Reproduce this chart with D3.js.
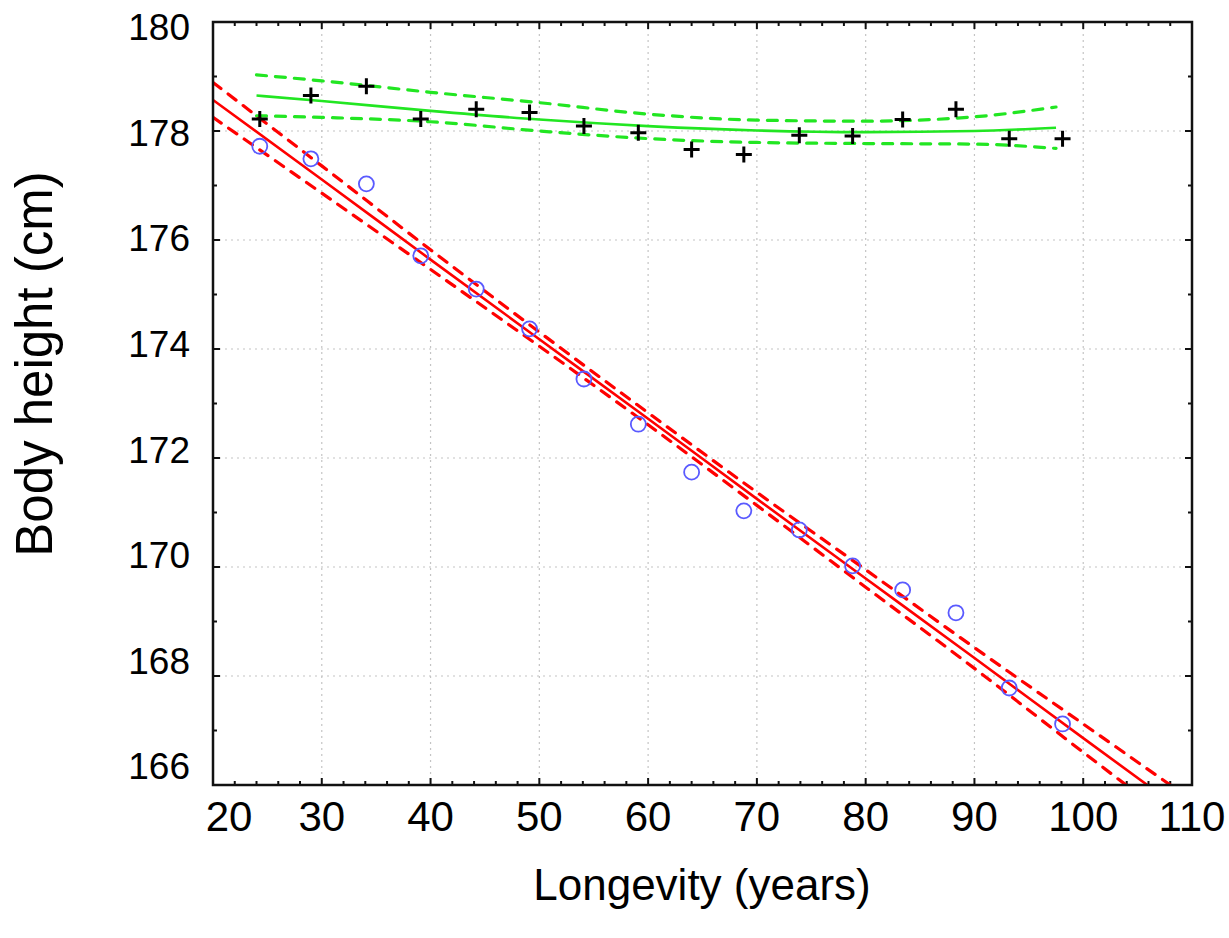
<!DOCTYPE html>
<html>
<head>
<meta charset="utf-8">
<script src="https://cdn.jsdelivr.net/npm/d3@7"></script>
<style>
    html, body { margin: 0; padding: 0; background: #fff; }
    svg { display: block; font-family: "Liberation Sans", Arial, sans-serif; }
</style>
</head>
<body>
<svg id="chart" width="1229" height="938"></svg>
<script>
// measured ages (years) shared by both groups
const ages = [24.3, 29, 34.1, 39.1, 44.2, 49.1, 54.1, 59.1, 64, 68.8, 73.9, 78.8, 83.4, 88.3, 93.2, 98.1];

// open blue circles
const heightCircles = [177.72, 177.49, 177.03, 175.71, 175.10, 174.37, 173.45, 172.62, 171.74, 171.03, 170.68, 170.02, 169.58, 169.16, 167.78, 167.12];

// black crosses
const heightCrosses = [178.22, 178.65, 178.82, 178.22, 178.40, 178.34, 178.09, 177.97, 177.66, 177.57, 177.92, 177.91, 178.21, 178.40, 177.86, 177.86];

// red fit and confidence band
const redX = [20, 30, 40, 50, 60, 70, 80, 90, 100, 110];
const redFit = [178.57, 177.11, 175.64, 174.18, 172.72, 171.25, 169.79, 168.33, 166.86, 165.40];
const redUpper = [178.89, 177.36, 175.82, 174.31, 172.83, 171.37, 169.95, 168.52, 167.12, 165.72];
const redLower = [178.25, 176.86, 175.46, 174.05, 172.61, 171.13, 169.63, 168.14, 166.60, 165.08];

// green fit and confidence band
const greenX = [24, 30, 40, 50, 60, 70, 80, 90, 97.5];
const greenFit = [178.65, 178.55, 178.37, 178.21, 178.09, 178.01, 177.98, 178.00, 178.06];
const greenUpper = [179.03, 178.92, 178.71, 178.52, 178.31, 178.20, 178.18, 178.26, 178.44];
const greenLower = [178.28, 178.25, 178.17, 178.00, 177.86, 177.79, 177.77, 177.76, 177.68];

const xTicks = [20, 30, 40, 50, 60, 70, 80, 90, 100, 110];
const yTicks = [166, 168, 170, 172, 174, 176, 178, 180];

const xTitle = "Longevity (years)";
const yTitle = "Body height (cm)";

const svg = d3.select("#chart");
const plotLeft = 213, plotRight = 1192, plotTop = 22, plotBottom = 785;

const x = d3.scaleLinear().domain([20, 110]).range([plotLeft, plotRight]);
const y = d3.scaleLinear().domain([166, 180]).range([plotBottom, plotTop]);
// the y labels in the original sit on a slightly tighter spacing than the ticks
const yLabel = d3.scaleLinear().domain([180, 166]).range([27, 766]);

svg.append("defs").append("clipPath").attr("id", "plot-clip")
    .append("rect")
    .attr("x", plotLeft).attr("y", plotTop)
    .attr("width", plotRight - plotLeft).attr("height", plotBottom - plotTop);

// grid
const grid = svg.append("g");
grid.selectAll(".gx")
    .data(xTicks.slice(1, -1))
    .enter().append("line")
    .attr("x1", d => x(d)).attr("x2", d => x(d))
    .attr("y1", plotTop).attr("y2", plotBottom)
    .attr("stroke", "#c4c4c4").attr("stroke-width", 1.2)
    .attr("stroke-dasharray", "2,4");
grid.selectAll(".gy")
    .data(yTicks.slice(1, -1))
    .enter().append("line")
    .attr("x1", plotLeft).attr("x2", plotRight)
    .attr("y1", d => y(d)).attr("y2", d => y(d))
    .attr("stroke", "#c4c4c4").attr("stroke-width", 1.2)
    .attr("stroke-dasharray", "2,4");

// inward ticks on all four sides
const xMinor = d3.range(20, 110.1, 2);
const yMinor = d3.range(166, 180.1, 1);
const ticks = svg.append("g").attr("stroke", "#111").attr("stroke-width", 2);
const xLen = d => (d % 10 === 0 ? 7 : 4);
const yLen = d => (d % 2 === 0 ? 7 : 4);

ticks.selectAll(".tb").data(xMinor).enter().append("line")
    .attr("x1", d => x(d)).attr("x2", d => x(d))
    .attr("y1", plotBottom).attr("y2", d => plotBottom - xLen(d));
ticks.selectAll(".tt").data(xMinor).enter().append("line")
    .attr("x1", d => x(d)).attr("x2", d => x(d))
    .attr("y1", plotTop).attr("y2", d => plotTop + xLen(d));
ticks.selectAll(".tl").data(yMinor).enter().append("line")
    .attr("y1", d => y(d)).attr("y2", d => y(d))
    .attr("x1", plotLeft).attr("x2", d => plotLeft + yLen(d));
ticks.selectAll(".tr").data(yMinor).enter().append("line")
    .attr("y1", d => y(d)).attr("y2", d => y(d))
    .attr("x1", plotRight).attr("x2", d => plotRight - yLen(d));

// lines
const plot = svg.append("g").attr("clip-path", "url(#plot-clip)");

function drawLine(xs, ys, color, dashed) {
    const line = d3.line()
        .x(d => x(d[0]))
        .y(d => y(d[1]))
        .curve(d3.curveMonotoneX);
    plot.append("path")
        .datum(xs.map((v, i) => [v, ys[i]]))
        .attr("d", line)
        .attr("fill", "none")
        .attr("stroke", color)
        .attr("stroke-width", dashed ? 3.2 : 2.6)
        .attr("stroke-linecap", dashed ? "round" : null)
        .attr("stroke-dasharray", dashed ? "10,9" : null);
}

drawLine(redX, redUpper, "#ff0000", true);
drawLine(redX, redLower, "#ff0000", true);
drawLine(redX, redFit, "#ff0000", false);
drawLine(greenX, greenUpper, "#22e622", true);
drawLine(greenX, greenLower, "#22e622", true);
drawLine(greenX, greenFit, "#22e622", false);

// circles
plot.selectAll(".circ")
    .data(ages.map((a, i) => [a, heightCircles[i]]))
    .enter().append("circle")
    .attr("cx", d => x(d[0]))
    .attr("cy", d => y(d[1]))
    .attr("r", 7.5)
    .attr("fill", "none")
    .attr("stroke", "#5a5aff")
    .attr("stroke-width", 1.8);

// crosses
plot.selectAll(".cross")
    .data(ages.map((a, i) => [a, heightCrosses[i]]))
    .enter().append("path")
    .attr("d", d => {
        const cx = x(d[0]), cy = y(d[1]), s = 8;
        return `M${cx - s},${cy}H${cx + s}M${cx},${cy - s}V${cy + s}`;
    })
    .attr("stroke", "#000")
    .attr("stroke-width", 3);

// frame
svg.append("rect")
    .attr("x", plotLeft).attr("y", plotTop)
    .attr("width", plotRight - plotLeft).attr("height", plotBottom - plotTop)
    .attr("fill", "none")
    .attr("stroke", "#111")
    .attr("stroke-width", 2.5);

// tick labels
svg.selectAll(".xl")
    .data(xTicks)
    .enter().append("text")
    .attr("x", d => x(d) + (d === 20 ? 16 : 0))
    .attr("y", 831)
    .attr("text-anchor", "middle")
    .attr("font-size", 42)
    .attr("fill", "#000")
    .text(d => d);

svg.selectAll(".yl")
    .data(yTicks)
    .enter().append("text")
    .attr("x", 190)
    .attr("y", d => yLabel(d))
    .attr("dy", "0.36em")
    .attr("text-anchor", "end")
    .attr("font-size", 37)
    .attr("fill", "#000")
    .text(d => d);

// axis titles
svg.append("text")
    .attr("x", 702)
    .attr("y", 900)
    .attr("text-anchor", "middle")
    .attr("font-size", 44)
    .attr("fill", "#000")
    .text(xTitle);

svg.append("text")
    .attr("transform", "translate(52,364) rotate(-90)")
    .attr("text-anchor", "middle")
    .attr("font-size", 51)
    .attr("fill", "#000")
    .text(yTitle);
</script>
</body>
</html>
